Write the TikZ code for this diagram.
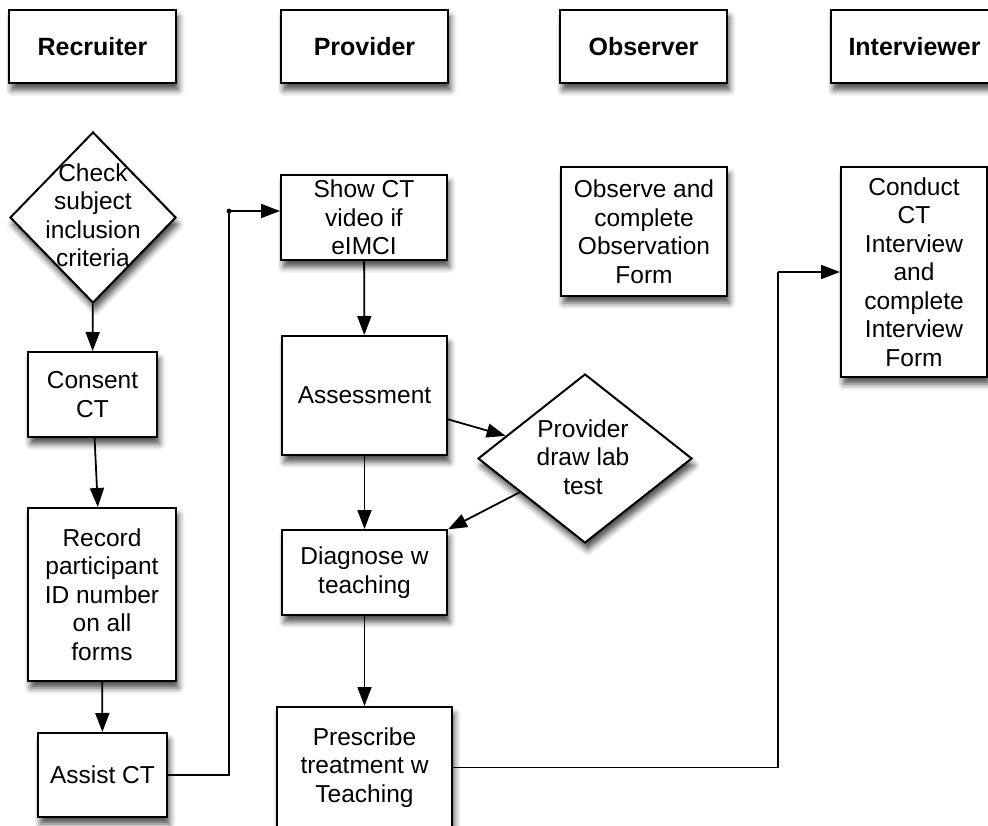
\documentclass[tikz,border=0pt]{standalone}
\usepackage{fontspec}
\setmainfont{Liberation Sans}
\usetikzlibrary{arrows.meta,shapes.geometric,shadows.blur}
\begin{document}
\begin{tikzpicture}[x=1pt,y=-1pt,
  font=\fontsize{24.5}{28.5}\selectfont,
  stepbox/.style={draw, line width=2pt, fill=white, align=center, inner sep=0pt,
    blur shadow={shadow xshift=2.5pt, shadow yshift=-7pt, shadow blur radius=6pt, shadow opacity=70}},
  head/.style={stepbox, font=\fontsize{25}{28.5}\selectfont\bfseries,
    minimum width=167pt, minimum height=73pt},
  choice/.style={stepbox, shape=diamond},
  choicetext/.style={align=center, inner sep=0pt},
  conn/.style={line width=1.8pt, -{Triangle[length=19pt,width=14pt]}},
  plain/.style={line width=1.8pt}
]
\useasboundingbox (0,0) rectangle (988,826);
\clip (0,0) rectangle (988,826);

% role headers
\node[head] (hrec) at (92.5,46.5) {Recruiter};
\node[head] (hpro) at (364.5,46.5) {Provider};
\node[head] (hobs) at (643.5,46.5) {Observer};
\node[head] (hint) at (914.5,46.5) {Interviewer};

% recruiter column
\node[choice, minimum width=166pt, minimum height=171pt] (check) at (93,217.5) {};
\node[choicetext] (checkt) at (93,215) {Check\\subject\\inclusion\\criteria};
\node[stepbox, minimum width=129pt, minimum height=85pt] (consent) at (92.5,394.5) {Consent\\CT};
\node[stepbox, minimum width=148pt, minimum height=173pt] (record) at (102,594.5)
  {Record\\participant\\ID number\\on all\\forms};
\node[stepbox, minimum width=129pt, minimum height=84pt] (assist) at (102.5,775) {Assist CT};

% provider column
\node[stepbox, minimum width=166pt, minimum height=85pt] (show) at (364,217.5) {Show CT\\video if\\eIMCI};
\node[stepbox, minimum width=165pt, minimum height=119pt] (assess) at (364.5,395.5) {Assessment};
\node[choice, minimum width=214pt, minimum height=169pt] (lab) at (585,458.5) {};
\node[choicetext] (labt) at (583,457) {Provider\\draw lab\\test};
\node[stepbox, minimum width=165pt, minimum height=85pt] (diag) at (364.5,572.5) {Diagnose w\\teaching};
\node[stepbox, minimum width=175pt, minimum height=121pt] (presc) at (364.5,767.5)
  {Prescribe\\treatment w\\Teaching};

% observer and interviewer columns
\node[stepbox, minimum width=166pt, minimum height=129pt] (observe) at (644,231.5)
  {Observe and\\complete\\Observation\\Form};
\node[stepbox, minimum width=146pt, minimum height=210pt] (conduct) at (914,272)
  {Conduct\\CT\\Interview\\and\\complete\\Interview\\Form};

% connectors
\coordinate (jogA) at (229,211);
\coordinate (jogB) at (778,272);

\draw[conn] (check) -- (consent);
\draw[conn] (consent) -- (record);
\draw[conn] (record) -- (assist);
\draw[plain] (assist.east) -| (jogA);
\draw[conn] (jogA) -- (show.west |- jogA);
\fill (jogA) circle (2.4pt);

\draw[conn] (show) -- (assess);
\draw[conn] (assess) -- (lab);
\draw[conn] (lab) -- (diag);
\draw[conn] (assess) -- (diag);
\draw[conn] (diag) -- (presc);
\draw[plain] (presc.east) -| (jogB);
\draw[conn] (jogB) -- (conduct.west |- jogB);
\end{tikzpicture}
\end{document}
